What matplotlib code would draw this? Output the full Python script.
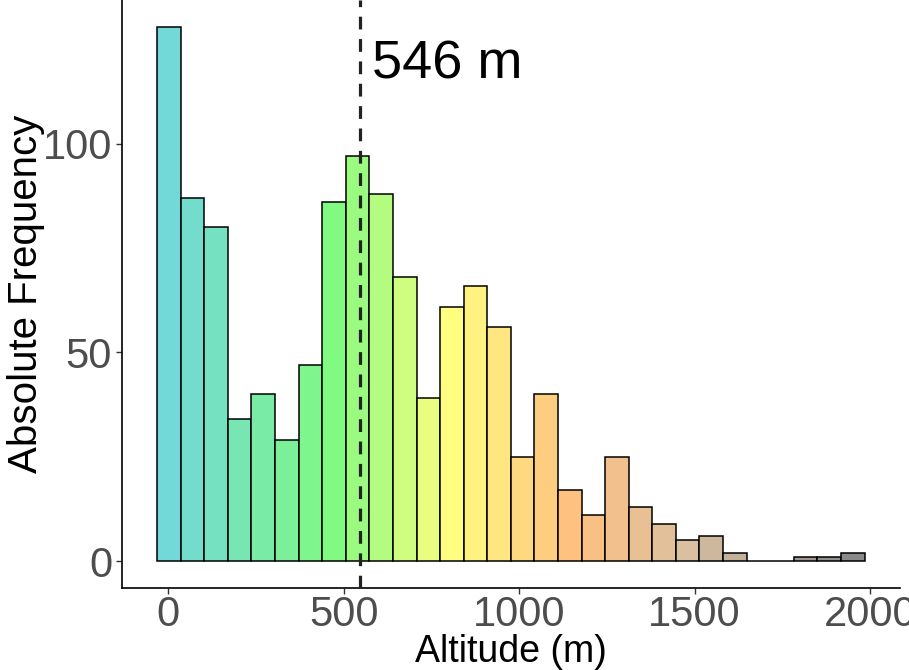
import matplotlib
matplotlib.use('Agg')

import matplotlib.pyplot as plt
from matplotlib.colors import LinearSegmentedColormap
import numpy as np

# histogram counts (30 bins)
counts = [128, 87, 80, 34, 40, 29, 47, 86, 97, 88,
          68, 39, 61, 66, 56, 25, 40, 17, 11, 25,
          13, 9, 5, 6, 2, 0, 0, 1, 1, 2]
bin_left = -31.5
bin_width = 67.2
median_alt = 546
median_label = '546 m'

x_ticks = [0, 500, 1000, 1500, 2000]
y_ticks = [0, 50, 100]

plt.rcParams['font.family'] = ['Liberation Sans', 'DejaVu Sans']

edges = bin_left + bin_width * np.arange(len(counts))
centers = edges + bin_width / 2

cmap = LinearSegmentedColormap.from_list('alt', [
    (0.0, '#72d8d8'),
    (0.24, '#80fa80'),
    (0.41, '#ffff80'),
    (0.59, '#ffc080'),
    (0.76, '#dac0a0'),
    (1.0, '#8a8a8a'),
])
norm = (centers - centers.min()) / (centers.max() - centers.min())
colors = cmap(norm)

fig = plt.figure(figsize=(9.09, 6.70), dpi=100)
ax = fig.add_axes([0.134, 0.1224, 0.856, 0.8776])

ax.bar(edges, counts, width=bin_width, align='edge', color=colors,
       edgecolor='black', linewidth=1.1, zorder=2)
ax.axvline(median_alt, color='#222222', linestyle=(0, (4, 3)), linewidth=2.3, zorder=3)
ax.text(median_alt + 36, 119, median_label, fontsize=39, va='center', ha='left')

span = edges[-1] + bin_width - edges[0]
ax.set_xlim(edges[0] - 0.05 * span, edges[-1] + bin_width + 0.05 * span)
ax.set_ylim(-0.05 * max(counts), 1.05 * max(counts))

ax.set_xticks(x_ticks)
ax.set_yticks(y_ticks)
ax.tick_params(labelsize=30, colors='#4d4d4d', length=4, width=1, pad=3)
ax.tick_params(axis='x', pad=1)
ax.tick_params(axis='both', color='#333333')
ax.set_xlabel('Altitude (m)', fontsize=27, labelpad=-1)
ax.set_ylabel('Absolute Frequency', fontsize=29, labelpad=-2)

for side in ['top', 'right']:
    ax.spines[side].set_visible(False)
for side in ['left', 'bottom']:
    ax.spines[side].set_linewidth(1.2)

fig.savefig('out.png', dpi=100)
